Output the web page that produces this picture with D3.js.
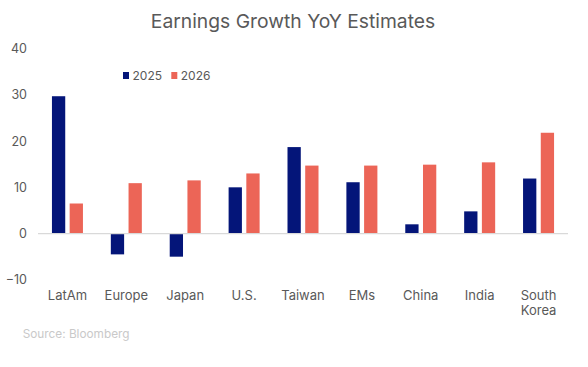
<!DOCTYPE html>
<html><head><meta charset="utf-8">
<script src="https://cdn.jsdelivr.net/npm/d3@7"></script>
<style>body{margin:0;background:#fff;}svg{display:block;font-family:Inter,"Noto Sans",sans-serif;}</style>
</head><body>
<script>
const categories = ["LatAm","Europe","Japan","U.S.","Taiwan","EMs","China","India","South Korea"];
const series = ["2025","2026"];
const values2025 = [29.7, -4.5, -5.0, 10.0, 18.7, 11.1, 2.0, 4.8, 11.9];
const values2026 = [6.5, 10.9, 11.5, 13.0, 14.7, 14.7, 14.9, 15.4, 21.8];
const yTicks = [-10, 0, 10, 20, 30, 40];
const colors = {"2025":"#041579","2026":"#EC6557"};

const W = 588, H = 367;
const svg = d3.select("body").append("svg").attr("width", W).attr("height", H);

const y = d3.scaleLinear().domain([-10, 40]).range([279.8, 48.6]);
const x0 = d3.scaleBand().domain(categories).range([38, 568]).paddingInner(0).paddingOuter(0);
const gw = 31;
const x1 = d3.scaleBand().domain(series).range([x0.bandwidth()/2 - gw/2, x0.bandwidth()/2 + gw/2]).paddingInner(0.25);

svg.append("text").attr("x", 293).attr("y", 28).attr("text-anchor","middle")
  .attr("font-size", 19.3).attr("fill","#595959").text("Earnings Growth YoY Estimates");

// y axis labels
const ya = svg.append("g").attr("transform","translate(27,0)")
  .call(d3.axisLeft(y).tickValues(yTicks).tickSize(0).tickPadding(0).tickFormat(d3.format("d")));
ya.select(".domain").remove();
ya.selectAll("text").attr("font-size", 12.5).attr("fill","#595959").attr("font-family","Inter,sans-serif");

const data = categories.map((c,i)=>({cat:c, vals:[{s:"2025",v:values2025[i]},{s:"2026",v:values2026[i]}]}));
const g = svg.append("g");
g.selectAll("g.grp").data(data).join("g").attr("class","grp")
  .attr("transform", d=>`translate(${x0(d.cat)},0)`)
  .selectAll("rect").data(d=>d.vals).join("rect")
  .attr("x", d=>x1(d.s)).attr("width", x1.bandwidth())
  .attr("y", d=>y(Math.max(0,d.v))).attr("height", d=>Math.abs(y(d.v)-y(0)))
  .attr("fill", d=>colors[d.s]);

// zero line
svg.append("line").attr("x1",38).attr("x2",568).attr("y1",y(0)).attr("y2",y(0))
  .attr("stroke","#d9d9d9").attr("stroke-width",1.3);

// x labels
const xg = svg.append("g");
categories.forEach(c=>{
  const parts = c === "South Korea" ? ["South","Korea"] : [c];
  const cx = x0(c) + x0.bandwidth()/2;
  const t = xg.append("text").attr("text-anchor","middle").attr("font-size",13).attr("fill","#595959");
  parts.forEach((p,k)=>t.append("tspan").attr("x", cx).attr("y", 300 + k*14.5).text(p));
});

// legend
const lg = svg.append("g");
[["2025",123],["2026",171.3]].forEach(([s,lx])=>{
  lg.append("rect").attr("x",lx).attr("y",72).attr("width",6).attr("height",7).attr("fill",colors[s]);
  lg.append("text").attr("x",lx+9.5).attr("y",79.5).attr("font-size",12).attr("fill","#595959").text(s);
});

svg.append("text").attr("x",22.7).attr("y",337.7).attr("font-size",11.8).attr("fill","#c9c9c9").text("Source: Bloomberg");
</script>
</body></html>
